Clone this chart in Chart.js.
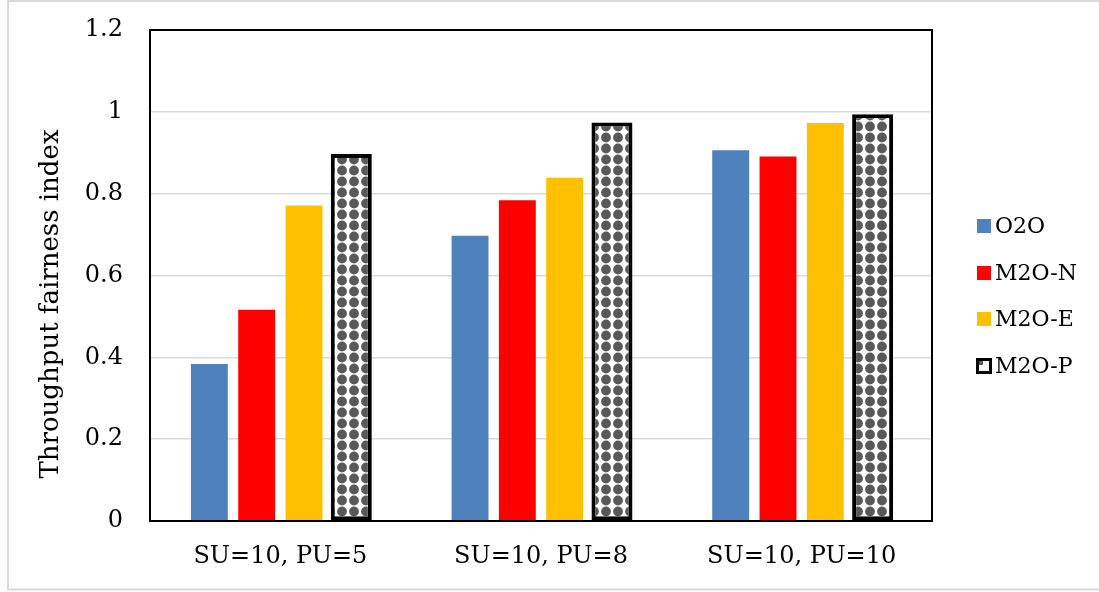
<!DOCTYPE html>
<html>
<head>
<meta charset="utf-8">
<title>Throughput fairness index</title>
<script src="https://cdn.jsdelivr.net/npm/chart.js@4/dist/chart.umd.min.js"></script>
<style>
  html, body { margin: 0; padding: 0; background: #ffffff; }
  #wrap { width: 1099px; height: 592px; }
</style>
</head>
<body>
<div id="wrap"><canvas id="chart" width="1099" height="592"></canvas></div>
<script>
// Scenario categories and fairness values per scheme
const categories = ['SU=10, PU=5', 'SU=10, PU=8', 'SU=10, PU=10'];
const seriesNames = ['O2O', 'M2O-N', 'M2O-E', 'M2O-P'];
const o2o  = [0.384, 0.697, 0.906];
const m2oN = [0.516, 0.784, 0.891];
const m2oE = [0.771, 0.839, 0.973];
const m2oP = [0.897, 0.974, 0.994];
const yTickLabels = ['0', '0.2', '0.4', '0.6', '0.8', '1', '1.2'];

const FONT = "'DejaVu Serif', 'Liberation Serif', serif";

// Dotted fill used by the M2O-P bars
function makeDotPattern() {
  const tile = document.createElement('canvas');
  tile.width = 12; tile.height = 11;
  const t = tile.getContext('2d');
  t.fillStyle = '#ffffff';
  t.fillRect(0, 0, 12, 11);
  t.fillStyle = '#595959';
  t.beginPath();
  t.arc(6, 5.5, 4.9, 0, Math.PI * 2);
  t.fill();
  return document.getElementById('chart').getContext('2d').createPattern(tile, 'repeat');
}
const dotPattern = makeDotPattern();

// Plot frame, outer border, rotated axis title and the side legend
const decorations = {
  id: 'decorations',
  beforeDraw(chart) {
    const ctx = chart.ctx;
    ctx.save();
    ctx.fillStyle = '#ffffff';
    ctx.fillRect(0, 0, chart.width, chart.height);
    ctx.strokeStyle = '#d9d9d9';
    ctx.lineWidth = 2;
    ctx.strokeRect(8, 1, chart.width + 10, 588.5);
    ctx.restore();
  },
  afterDraw(chart) {
    const ctx = chart.ctx;
    const a = chart.chartArea;
    ctx.save();
    ctx.strokeStyle = '#000000';
    ctx.lineWidth = 2;
    ctx.strokeRect(a.left, a.top, a.right - a.left, a.bottom - a.top);

    // y-axis title
    ctx.fillStyle = '#000000';
    ctx.font = "26px " + FONT;
    ctx.textAlign = 'center';
    ctx.textBaseline = 'middle';
    ctx.translate(51, 304);
    ctx.rotate(-Math.PI / 2);
    ctx.fillText('Throughput fairness index', 0, 0);
    ctx.restore();

    // legend
    ctx.save();
    const ys = [226, 273, 319, 366];
    ctx.font = "22px " + FONT;
    ctx.textAlign = 'left';
    ctx.textBaseline = 'middle';
    chart.data.datasets.forEach((ds, i) => {
      const y = ys[i];
      if (i === 3) {
        ctx.fillStyle = '#ffffff';
        ctx.fillRect(976, y - 8, 16, 16);
        ctx.fillStyle = '#595959';
        ctx.fillRect(979, y - 5, 4, 4);
        ctx.strokeStyle = '#000000';
        ctx.lineWidth = 3;
        ctx.strokeRect(977.5, y - 6.5, 13, 13);
      } else {
        ctx.fillStyle = ds.backgroundColor;
        ctx.fillRect(977, y - 7, 14, 14);
      }
      ctx.fillStyle = '#000000';
      ctx.fillText(ds.label, 995, y + 1);
    });
    ctx.restore();
  }
};

const barCommon = { categoryPercentage: 0.726, barPercentage: 0.78, borderSkipped: false };

new Chart(document.getElementById('chart'), {
  type: 'bar',
  data: {
    labels: categories,
    datasets: [
      Object.assign({ label: seriesNames[0], data: o2o,  backgroundColor: '#4f81bd', borderWidth: 0 }, barCommon),
      Object.assign({ label: seriesNames[1], data: m2oN, backgroundColor: '#ff0000', borderWidth: 0 }, barCommon),
      Object.assign({ label: seriesNames[2], data: m2oE, backgroundColor: '#ffc000', borderWidth: 0 }, barCommon),
      Object.assign({}, barCommon, { label: seriesNames[3], data: m2oP, backgroundColor: dotPattern,
        borderColor: '#000000', borderWidth: 4, barPercentage: 0.867 })
    ]
  },
  options: {
    responsive: false,
    animation: false,
    events: [],
    layout: { padding: { top: 30, right: 167, bottom: 0, left: 0 } },
    plugins: {
      legend: { display: false },
      tooltip: { enabled: false },
      title: { display: false }
    },
    scales: {
      x: {
        grid: { display: false, drawTicks: false },
        border: { display: false },
        ticks: { color: '#000000', font: { family: FONT, size: 24 }, padding: 21, maxRotation: 0 },
        afterFit(scale) {
          scale.height = 71;
          scale.paddingLeft = 0;
          scale.paddingRight = 0;
        }
      },
      y: {
        min: 0, max: 1.2,
        grid: { color: '#d9d9d9', lineWidth: 1.5, drawTicks: false },
        border: { display: false },
        ticks: {
          stepSize: 0.2,
          color: '#000000',
          font: { family: FONT, size: 24 },
          padding: 27,
          callback: (v, i) => yTickLabels[i]
        },
        afterFit(scale) {
          scale.width = 150;
          scale.paddingTop = 0;
          scale.paddingBottom = 0;
        }
      }
    }
  },
  plugins: [decorations]
});
</script>
</body>
</html>
